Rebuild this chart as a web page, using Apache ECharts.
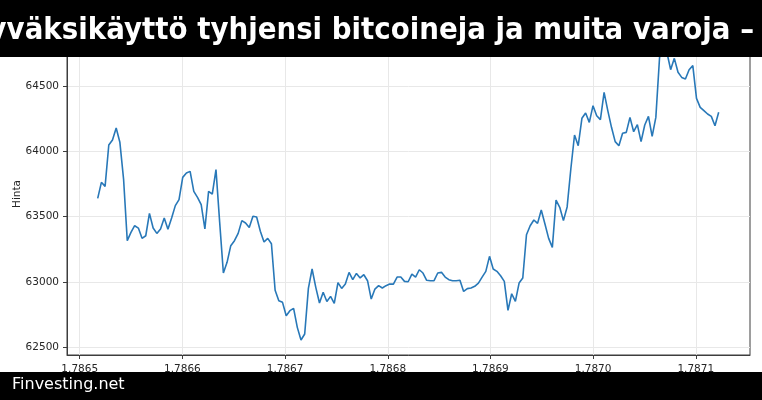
<!DOCTYPE html>
<html>
<head>
<meta charset="utf-8">
<script src="https://cdn.jsdelivr.net/npm/echarts@6/dist/echarts.min.js"></script>
<style>
html,body{margin:0;padding:0;background:#fff;}
#chart{width:762px;height:400px;}
</style>
</head>
<body>
<div id="chart"></div>
<script>
// Hourly prices (Hinta); timestamps in seconds, axis labels shown as value/1e9
const startTime = 1786517500;
const stepSeconds = 3600;
const prices = [
  63641, 63764, 63733, 64050, 64089, 64181, 64071, 63789, 63316, 63380,
  63431, 63413, 63334, 63354, 63526, 63413, 63372, 63406, 63490, 63403,
  63490, 63585, 63631, 63802, 63835, 63848, 63695, 63649, 63592, 63406,
  63695, 63674, 63861, 63457, 63068, 63150, 63278, 63316, 63372, 63470,
  63452, 63418, 63503, 63498, 63388, 63306, 63334, 63293, 62936, 62856,
  62843, 62740, 62779, 62797, 62651, 62554, 62600, 62950, 63099, 62958,
  62838, 62920, 62850, 62889, 62835, 62994, 62950, 62983, 63073, 63017,
  63065, 63030, 63055, 63009, 62868, 62945, 62971, 62953, 62971, 62983,
  62983, 63037, 63037, 63004, 63001, 63060, 63037, 63093, 63068, 63012,
  63009, 63009, 63068, 63073, 63037, 63017, 63009, 63009, 63012, 62927,
  62948, 62953, 62966, 62991, 63037, 63081, 63196, 63099, 63081, 63047,
  63004, 62781, 62909, 62850, 62991, 63030, 63362, 63431, 63475, 63449,
  63551, 63444, 63334, 63265, 63628, 63572, 63470, 63575, 63866, 64127,
  64045, 64255, 64296, 64224, 64352, 64275, 64245, 64454, 64314, 64186,
  64076, 64045, 64140, 64147, 64262, 64152, 64206, 64076, 64204, 64270,
  64117, 64262, 64720, 64850, 64760, 64628, 64715, 64608, 64569, 64557,
  64628, 64659, 64408, 64339, 64314, 64288, 64270, 64198, 64301
];
const xTicks = [1786500000, 1786600000, 1786700000, 1786800000, 1786900000, 1787000000, 1787100000];
const yTicks = [62500, 63000, 63500, 64000, 64500];
const titleText = 'yväksikäyttö tyhjensi bitcoineja ja muita varoja –';
const footerText = 'Finvesting.net';
const yName = 'Hinta';

const seriesData = prices.map((p, i) => [startTime + i * stepSeconds, p]);

const chart = echarts.init(document.getElementById('chart'), null, {renderer: 'canvas'});
const font = 'DejaVu Sans';
const axisColor = '#3d3d3d';
const textColor = '#262626';
chart.setOption({
  animation: false,
  backgroundColor: '#ffffff',
  grid: {
    left: 67, right: 12, top: 25, bottom: 45,
    show: true, borderColor: axisColor, borderWidth: 1, backgroundColor: 'transparent'
  },
  xAxis: {
    type: 'value',
    min: 1786487600,
    max: 1787152800,
    axisLine: {show: true, lineStyle: {color: axisColor, width: 1}},
    axisTick: {show: true, customValues: xTicks, length: 4, inside: false, lineStyle: {color: axisColor}},
    axisLabel: {
      customValues: xTicks, margin: 9, color: textColor, fontFamily: font, fontSize: 10.5,
      formatter: v => (v / 1e9).toFixed(4)
    },
    splitLine: {show: true, lineStyle: {color: '#e8e8e8', width: 1}}
  },
  yAxis: {
    type: 'value',
    min: 62439,
    max: 64971,
    axisLine: {show: true, lineStyle: {color: axisColor, width: 1}},
    axisTick: {show: true, customValues: yTicks, length: 4, lineStyle: {color: axisColor}},
    axisLabel: {customValues: yTicks, margin: 8, color: textColor, fontFamily: font, fontSize: 10.5,
      formatter: v => String(v)},
    splitLine: {show: true, lineStyle: {color: '#e8e8e8', width: 1}}
  },
  series: [{
    type: 'line',
    data: seriesData,
    showSymbol: false,
    clip: true,
    lineStyle: {color: '#2878b8', width: 1.6},
    itemStyle: {color: '#2878b8'}
  }],
  graphic: [
    {type: 'text', z: 50, x: 17, y: 194, rotation: Math.PI / 2, silent: true, style: {
      text: yName, x: 0, y: 0, align: 'center', verticalAlign: 'middle',
      fill: textColor, font: '10.5px "DejaVu Sans"'
    }},
    {type: 'rect', z: 100, shape: {x: 0, y: 0, width: 762, height: 57}, style: {fill: '#000'}, silent: true},
    {type: 'text', z: 101, silent: true, x: 754, y: 31.2, scaleX: 1, scaleY: 1.11, style: {
      text: titleText, x: 0, y: 0, align: 'right', verticalAlign: 'middle',
      fill: '#fff', font: 'bold 27.7px "DejaVu Sans"'
    }},
    {type: 'rect', z: 100, shape: {x: 0, y: 372, width: 762, height: 28}, style: {fill: '#000'}, silent: true},
    {type: 'text', z: 101, silent: true, style: {
      text: footerText, x: 12, y: 385.2, align: 'left', verticalAlign: 'middle',
      fill: '#fff', font: '16px "DejaVu Sans"'
    }}
  ]
});
</script>
</body>
</html>
